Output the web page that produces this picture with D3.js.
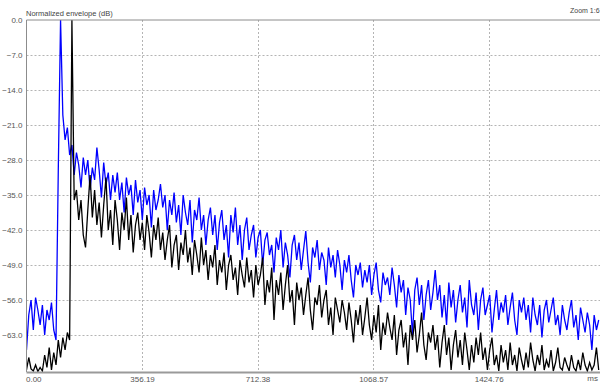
<!DOCTYPE html>
<html>
<head>
<meta charset="utf-8">
<script src="https://cdn.jsdelivr.net/npm/d3@7/dist/d3.min.js"></script>
<style>
  body { margin: 0; background: #fff; }
  svg { display: block; font-family: "Liberation Sans", Arial, sans-serif; }
</style>
</head>
<body>
<div id="chart"></div>
<script>
// sampling of both envelopes (ms between points)
const sampleStep = 7;

const yTicks = [0, -7, -14, -21, -28, -35, -42, -49, -56, -63];
const xTicks = [0, 356.19, 712.38, 1068.57, 1424.76];
const xTickLabels = ['0.00', '356.19', '712.38', '1068.57', '1424.76'];

// blue envelope (dB)
const blueEnv = [
  -66, -59, -56, -62, -55.5, -58, -61, -57, -63, -58,
  -60, -56.5, -62, -64, -30, 0, -19, -24, -21.5, -27,
  -25, -31, -26.5, -29, -33.5, -27.5, -31, -28, -34, -29.5,
  -32, -25.5, -30, -35.5, -28.5, -33, -30.5, -36, -31, -34.5,
  -30.5, -36, -32.5, -38.5, -31.5, -35, -33, -39, -32, -36.5,
  -34, -40, -33.5, -37, -35, -41.5, -34, -38, -36, -32.8,
  -37.5, -35, -42, -36, -39, -34.5, -40.5, -37, -43, -35,
  -38.5, -41, -36, -44.5, -38, -40, -35.5, -42, -39, -45,
  -40, -37.5, -43, -39, -46, -40.5, -38, -44, -41, -47.5,
  -39, -42.5, -37.5, -45, -41, -48, -42, -39.5, -46, -43,
  -41, -47.5, -43.5, -42, -49, -44, -42.5, -47, -45, -50.5,
  -43.5, -46, -42, -49.5, -44.5, -47, -51.5, -45, -43, -48,
  -44.5, -50, -46, -42.2, -48.5, -52.5, -45.5, -47.5, -44, -50,
  -46.5, -48, -53, -45.5, -49.5, -47, -51.5, -46, -49, -54,
  -48, -50.5, -47, -52, -55.5, -49, -51, -48.5, -53.5, -50,
  -52.5, -49, -55, -51, -48.5, -54, -56.5, -50.5, -53, -51.5,
  -55, -49.5, -53, -57.5, -51, -54.5, -52, -59, -53.5, -56,
  -63, -54, -51.5, -57, -53, -60, -55, -52, -58, -54.5,
  -50, -56, -53, -59.5, -55, -61, -52.5, -57.5, -54, -60.5,
  -56, -53, -58.5, -55.5, -61.5, -52, -57, -59, -54.5, -62,
  -56, -53.5, -59, -57, -55, -62.5, -58, -54, -60, -56.5,
  -58.5, -55, -61, -57.5, -54.5, -60, -63, -56, -58.5, -55.5,
  -60, -57, -62.5, -55.5, -59, -61, -57, -63.5, -58, -56,
  -60.5, -58, -55.5, -61, -59, -63, -57, -60, -62, -58.5,
  -56, -61.5, -59, -64, -57.5, -60, -62.5, -58.5, -61, -66,
  -59, -62, -60
];

// black envelope (dB)
const blackEnv = [
  -70, -67.5, -69.8, -70.2, -69, -70.3, -69.5, -70.2, -67, -69.5,
  -65.5, -70, -66.5, -69, -64, -67.5, -63.5, -66, -62.5, -64,
  0, -36, -34, -40, -36, -43, -45.5, -38, -31, -39.5,
  -34, -41, -36.5, -43.5, -37, -31.5, -42, -38, -45, -36,
  -40, -46, -38.5, -42, -35.5, -44, -39, -46.5, -41, -38.5,
  -44, -40.5, -46, -39, -42.5, -47.5, -41, -44, -39.5, -46,
  -42.5, -48, -44, -41, -49.5, -45, -43, -50, -44.5, -47,
  -42, -48.5, -45.5, -51, -44, -47, -50.5, -43.5, -49, -46,
  -52, -47, -49.5, -45, -53, -48, -50.5, -46.5, -54, -49,
  -47, -52, -49.5, -55, -48, -51, -53.5, -47.5, -52.5, -50,
  -55.5, -49, -53, -51, -47.5, -57, -52, -54.5, -49.5, -60,
  -52, -55, -50.5, -58, -53, -49, -56.5, -54, -61, -52.5,
  -56, -53.5, -59, -55, -51.5, -58, -62, -55.5, -57, -53,
  -59.5, -56, -54, -61, -57.5, -63, -55.5, -58, -60.5, -56,
  -58.5, -62, -56.5, -60, -64.5, -58, -61, -57, -63, -59.5,
  -55.5, -61, -64, -59, -62.5, -57, -66, -60.5, -63, -58.5,
  -61.5, -64, -59, -67, -62, -60, -65.5, -62.5, -69, -61,
  -64, -60, -66.5, -63, -58.5, -65, -68, -62.5, -64.5, -61,
  -66, -63, -69.5, -64.5, -61, -67, -63.5, -70, -65, -62,
  -67.5, -64, -69, -62.5, -66, -70, -65, -68.5, -63.5, -67,
  -62.5, -68, -65.5, -70, -66, -63.5, -69, -67, -70.2, -65,
  -68.5, -66, -70, -64.5, -69, -67, -70.2, -65.5, -68, -70,
  -66.5, -69.5, -64.5, -68, -70.2, -67, -69, -65, -70, -68,
  -69.5, -66, -70.2, -68.5, -65.5, -69.5, -70, -67.5, -69, -70.2,
  -67, -69.5, -70.2, -68, -70, -66.5, -69, -70.2, -68.5, -70,
  -69, -65.5, -70
];

const width = 600;
const height = 383;
const plot = { left: 26.5, right: 600, top: 20, bottom: 372 };

const svg = d3.select('#chart').append('svg')
    .attr('width', width)
    .attr('height', height);

const x = d3.scaleLinear()
    .domain([0, 1768])
    .range([plot.left, plot.right]);

const y = d3.scaleLinear()
    .domain([-70.4, 0])
    .range([plot.bottom, plot.top]);

// dotted grid
const grid = svg.append('g').attr('class', 'grid');
grid.selectAll('line.h')
    .data(yTicks.slice(1))
    .enter().append('line')
    .attr('class', 'h')
    .attr('x1', plot.left)
    .attr('x2', plot.right)
    .attr('y1', d => Math.round(y(d)) + 0.5)
    .attr('y2', d => Math.round(y(d)) + 0.5);
grid.selectAll('line.v')
    .data(xTicks.slice(1))
    .enter().append('line')
    .attr('class', 'v')
    .attr('x1', d => Math.round(x(d)) + 0.5)
    .attr('x2', d => Math.round(x(d)) + 0.5)
    .attr('y1', plot.top)
    .attr('y2', plot.bottom);
grid.selectAll('line')
    .attr('stroke', '#b4b4b4')
    .attr('stroke-width', 1)
    .attr('stroke-dasharray', '2,2');

svg.append('clipPath').attr('id', 'plotClip')
  .append('rect')
    .attr('x', plot.left)
    .attr('y', plot.top - 1)
    .attr('width', plot.right - plot.left)
    .attr('height', plot.bottom - plot.top + 1);

const line = d3.line()
    .x((d, i) => x(i * sampleStep))
    .y(d => y(d));

const lines = svg.append('g').attr('clip-path', 'url(#plotClip)');
lines.append('path')
    .datum(blueEnv)
    .attr('fill', 'none')
    .attr('stroke', '#0000ff')
    .attr('stroke-width', 1.3)
    .attr('d', line);
lines.append('path')
    .datum(blackEnv)
    .attr('fill', 'none')
    .attr('stroke', '#000000')
    .attr('stroke-width', 1.3)
    .attr('d', line);

// frame lines
svg.append('line')
    .attr('x1', plot.left).attr('x2', plot.right)
    .attr('y1', plot.top).attr('y2', plot.top)
    .attr('stroke', '#8c8c8c').attr('stroke-width', 1);
svg.append('line')
    .attr('x1', plot.left).attr('x2', plot.left)
    .attr('y1', plot.top).attr('y2', plot.bottom)
    .attr('stroke', '#8c8c8c').attr('stroke-width', 1);
svg.append('line')
    .attr('x1', plot.left).attr('x2', plot.right)
    .attr('y1', plot.bottom + 0.5).attr('y2', plot.bottom + 0.5)
    .attr('stroke', '#9a9a9a').attr('stroke-width', 2);

// axes (labels only)
const yAxis = d3.axisLeft(y)
    .tickValues(yTicks)
    .tickSize(0)
    .tickPadding(4)
    .tickFormat(d3.format('.1f'));
const yAxisGroup = svg.append('g')
    .attr('transform', 'translate(' + plot.left + ',0)')
    .call(yAxis);

const xAxis = d3.axisBottom(x)
    .tickValues(xTicks)
    .tickSize(0)
    .tickPadding(4)
    .tickFormat((d, i) => xTickLabels[i]);
const xAxisGroup = svg.append('g')
    .attr('transform', 'translate(0,' + plot.bottom + ')')
    .call(xAxis);
xAxisGroup.select('.tick text').attr('text-anchor', 'start').attr('dx', '-1');

[yAxisGroup, xAxisGroup].forEach(g => {
  g.select('.domain').remove();
  g.selectAll('text')
    .attr('fill', '#555')
    .style('font-size', '8px')
    .style('font-family', '"Liberation Sans", Arial, sans-serif');
});

svg.append('text')
    .attr('x', 598)
    .attr('y', 381)
    .attr('text-anchor', 'end')
    .attr('fill', '#555')
    .style('font-size', '8px')
    .text('ms');

svg.append('text')
    .attr('x', 26)
    .attr('y', 15.5)
    .attr('fill', '#444')
    .style('font-size', '7.5px')
    .text('Normalized envelope (dB)');

svg.append('text')
    .attr('x', 570)
    .attr('y', 12.5)
    .attr('fill', '#444')
    .style('font-size', '7px')
    .text('Zoom 1:6');
</script>
</body>
</html>
